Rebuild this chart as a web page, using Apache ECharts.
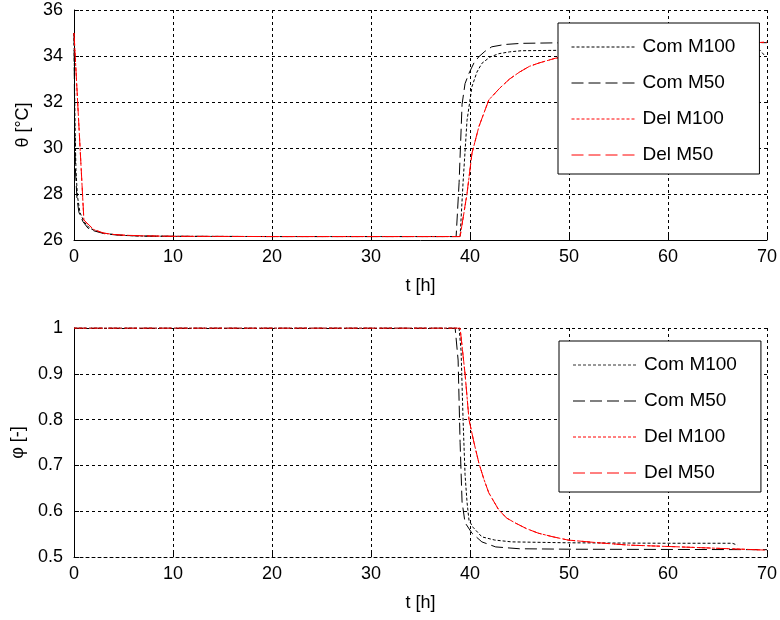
<!DOCTYPE html>
<html>
<head>
<meta charset="utf-8">
<script src="https://cdn.jsdelivr.net/npm/echarts@6/dist/echarts.min.js"></script>
<style>
  html, body { margin: 0; padding: 0; background: #fff; }
  #chart { width: 780px; height: 620px; }
</style>
</head>
<body>
<div id="chart"></div>
<script>
// Series names shared by both panels
const seriesNames = ['Com M100', 'Com M50', 'Del M100', 'Del M50'];

// Time axis ticks [h]
const tTicks = [0, 10, 20, 30, 40, 50, 60, 70];
const thetaTicks = [26, 28, 30, 32, 34, 36];
const phiTicks = [0.5, 0.6, 0.7, 0.8, 0.9, 1];

// Temperature θ [°C]
const tComM100Theta = [0, 0.1, 0.2, 0.35, 0.6, 1, 1.5, 2, 3, 4, 5, 7, 10, 20, 39.0, 39.3, 39.7, 40.2, 40.7, 41.2, 42, 42.9, 44, 45.2, 50, 60, 69.3, 69.8];
const comM100Theta = [35.0, 31.0, 29.0, 27.9, 27.2, 26.8, 26.55, 26.42, 26.3, 26.24, 26.2, 26.17, 26.16, 26.15, 26.15, 28.5, 31.2, 32.67, 33.3, 33.68, 33.95, 34.1, 34.18, 34.23, 34.25, 34.25, 34.25, 34.0];

const tComM50Theta = [0, 0.07, 0.15, 0.3, 0.5, 0.9, 1.4, 2, 3, 4, 5, 7, 10, 20, 38.6, 38.9, 39.2, 39.5, 39.9, 40.4, 40.9, 41.5, 42.2, 43.5, 45.2, 50, 60, 70];
const comM50Theta = [35.0, 31.0, 29.0, 27.8, 27.2, 26.8, 26.52, 26.4, 26.28, 26.23, 26.2, 26.17, 26.16, 26.15, 26.15, 28.5, 31.9, 32.8, 33.25, 33.7, 33.97, 34.2, 34.4, 34.5, 34.55, 34.58, 34.58, 34.58];

const tDelM100Theta = [0, 1, 2, 3, 4, 5, 7, 10, 20, 39.0, 39.7, 40.2, 40.9, 41.9, 43, 44, 45, 46, 47, 48.6, 50, 55, 60, 65, 70];
const delM100Theta = [35.0, 26.85, 26.45, 26.3, 26.24, 26.21, 26.18, 26.16, 26.15, 26.15, 28.0, 29.77, 30.93, 32.09, 32.6, 33.0, 33.3, 33.55, 33.7, 33.9, 34.0, 34.25, 34.4, 34.52, 34.6];

const tDelM50Theta = [0, 1, 2, 3, 4, 5, 7, 10, 20, 39.0, 39.7, 40.2, 40.9, 41.9, 43, 44, 45, 46, 47, 48.6, 50, 55, 60, 65, 70];
const delM50Theta = [35.0, 26.87, 26.45, 26.3, 26.24, 26.21, 26.18, 26.16, 26.15, 26.15, 28.03, 29.77, 30.93, 32.09, 32.6, 33.0, 33.3, 33.55, 33.7, 33.9, 34.0, 34.25, 34.4, 34.52, 34.6];

// Relative humidity φ [-]
const tComM100Phi = [0, 38.9, 39.1, 39.3, 39.5, 39.7, 39.9, 40.3, 41.2, 42.5, 44.2, 50, 60, 66.5, 67];
const comM100Phi = [1, 1, 0.95, 0.8, 0.68, 0.62, 0.58, 0.565, 0.544, 0.537, 0.533, 0.531, 0.530, 0.530, 0.526];

const tComM50Phi = [0, 38.5, 38.8, 39.0, 39.2, 39.5, 40.2, 41.2, 42.6, 45, 50, 70];
const comM50Phi = [1, 1, 0.93, 0.75, 0.62, 0.575, 0.552, 0.533, 0.522, 0.518, 0.517, 0.516];

const tDelM100Phi = [0, 39.0, 39.5, 39.9, 40.4, 40.9, 41.4, 41.9, 42.9, 43.7, 44.6, 45.7, 46.9, 48.4, 49.9, 53, 56, 60, 65, 70];
const delM100Phi = [1, 1, 0.9, 0.80, 0.75, 0.705, 0.67, 0.64, 0.603, 0.585, 0.574, 0.562, 0.552, 0.544, 0.537, 0.531, 0.526, 0.523, 0.519, 0.515];

const tDelM50Phi = [0, 39.0, 39.5, 39.9, 40.4, 40.9, 41.4, 41.9, 42.9, 43.7, 44.6, 45.7, 46.9, 48.4, 49.9, 53, 56, 60, 65, 70];
const delM50Phi = [1, 1, 0.9, 0.80, 0.75, 0.705, 0.67, 0.64, 0.603, 0.585, 0.574, 0.562, 0.552, 0.544, 0.537, 0.531, 0.526, 0.523, 0.519, 0.515];

const zip = (ts, vs) => ts.map((t, i) => [t, vs[i]]);

const FONT = 'Liberation Sans, Arial, sans-serif';
const DOT = [3, 2];
const DASH = [12, 5];
const styles = [
  { color: '#000000', type: DOT },
  { color: '#000000', type: DASH },
  { color: '#ff0000', type: DOT },
  { color: '#ff0000', type: DASH }
];

function makeLine(name, data, idx, style) {
  return {
    name: name,
    type: 'line',
    xAxisIndex: idx,
    yAxisIndex: idx,
    data: data,
    symbol: 'none',
    animation: false,
    lineStyle: { color: style.color, width: 1, type: style.type },
    itemStyle: { color: style.color }
  };
}

const gridLine = { show: true, lineStyle: { color: '#000', width: 1, type: [3, 3] } };

function xAxis(idx, dashedLine) {
  return {
    type: 'value', gridIndex: idx, min: tTicks[0], max: tTicks[tTicks.length - 1], interval: 10,
    name: 't [h]', nameLocation: 'middle', nameGap: 37,
    nameTextStyle: { fontFamily: FONT, fontSize: 18, color: '#000' },
    axisLine: { show: true, onZero: false, lineStyle: { color: '#000', width: 1, type: dashedLine ? [3, 3] : 'solid' } },
    axisTick: { show: true, inside: true, length: 5, lineStyle: { color: '#000' } },
    axisLabel: { fontFamily: FONT, fontSize: 18, color: '#000', margin: 8 },
    splitLine: gridLine
  };
}

function yAxis(idx, name, ticks, interval) {
  return {
    type: 'value', gridIndex: idx, min: ticks[0], max: ticks[ticks.length - 1], interval: interval,
    name: name, nameLocation: 'middle', nameGap: 42,
    nameTextStyle: { fontFamily: FONT, fontSize: 18, color: '#000' },
    axisLine: { show: true, onZero: false, lineStyle: { color: '#000', width: 1 } },
    axisTick: { show: true, inside: true, length: 5, lineStyle: { color: '#000' } },
    axisLabel: { fontFamily: FONT, fontSize: 18, color: '#000', margin: 11 },
    splitLine: gridLine
  };
}

function legend(top, left, itemStyles) {
  return {
    orient: 'vertical', left: left, top: top,
    data: seriesNames.map((n, i) => ({
      name: n,
      itemStyle: { opacity: 0, color: 'rgba(0,0,0,0)', borderWidth: 0 },
      lineStyle: { color: itemStyles[i].color, type: itemStyles[i].type, width: itemStyles[i].width || 1, opacity: 1 }
    })),
    itemStyle: { opacity: 0 },
    itemWidth: 63, itemHeight: 20, itemGap: 16,
    padding: [14, 24, 9, 13],
    backgroundColor: '#fff', borderColor: '#000', borderWidth: 1,
    textStyle: { fontFamily: FONT, fontSize: 19, color: '#000', lineHeight: 20, padding: [0, 0, 0, 3] },
    selectedMode: false
  };
}

const chart = echarts.init(document.getElementById('chart'), null, { renderer: 'canvas' });

const series = [
  makeLine(seriesNames[0], zip(tComM100Theta, comM100Theta), 0, styles[0]),
  makeLine(seriesNames[1], zip(tComM50Theta, comM50Theta), 0, styles[1]),
  makeLine(seriesNames[2], zip(tDelM100Theta, delM100Theta), 0, styles[2]),
  makeLine(seriesNames[3], zip(tDelM50Theta, delM50Theta), 0, styles[3]),
  makeLine(seriesNames[0], zip(tComM100Phi, comM100Phi), 1, styles[0]),
  makeLine(seriesNames[1], zip(tComM50Phi, comM50Phi), 1, styles[1]),
  makeLine(seriesNames[2], zip(tDelM100Phi, delM100Phi), 1, styles[2]),
  makeLine(seriesNames[3], zip(tDelM50Phi, delM50Phi), 1, styles[3])
];

chart.setOption({
  backgroundColor: '#fff',
  animation: false,
  grid: [
    { left: 74, top: 10, width: 695, height: 230 },
    { left: 74, top: 328, width: 695, height: 229 }
  ],
  xAxis: [xAxis(0, false), xAxis(1, true)],
  yAxis: [
    yAxis(0, 'θ [°C]', thetaTicks, 2),
    yAxis(1, 'φ [-]', phiTicks, 0.1)
  ],
  legend: [
    legend(23, 558, styles),
    legend(341, 559, [
      { color: '#333333', type: DOT },
      { color: '#808080', type: DASH, width: 2 },
      { color: '#ff0000', type: DOT },
      { color: '#ff0000', type: DASH }
    ])
  ],
  series: series
});
</script>
</body>
</html>
